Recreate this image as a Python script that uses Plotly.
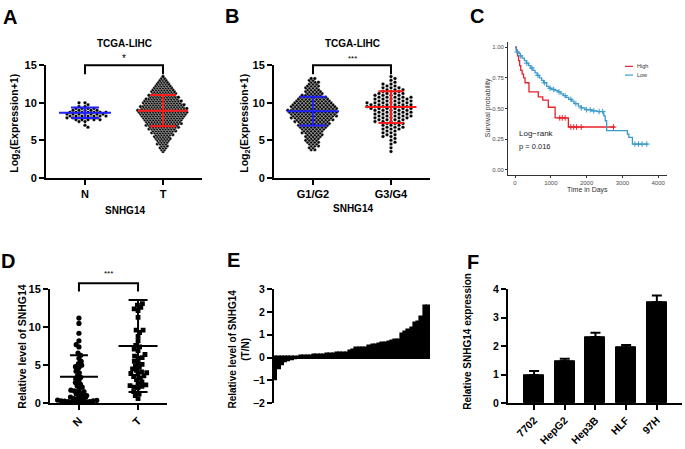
import math
import plotly.graph_objects as go

W, H = 685, 449
FONT = "Liberation Sans"

# ---------------- data ----------------
LEVELS = [3.5, 3.75, 4.0, 4.25, 4.5, 4.75, 5.0, 5.25, 5.5, 5.75,
          6.0, 6.25, 6.5, 6.75, 7.0, 7.25, 7.5, 7.75, 8.0, 8.25,
          8.5, 8.75, 9.0, 9.25, 9.5, 9.75, 10.0, 10.25, 10.5, 10.75,
          11.0, 11.25, 11.5, 11.75, 12.0, 12.25, 12.5, 12.75, 13.0, 13.25, 13.5]

# Panel A (number of samples per expression level)
A_categories = ["N", "T"]
A_N_counts = [0, 0, 0, 0, 0, 0, 0, 0, 0, 0,
              0, 0, 0, 1, 1, 0, 2, 5, 6, 7,
              7, 7, 5, 4, 2, 1, 2, 0, 0, 0,
              0, 0, 0, 0, 0, 0, 0, 0, 0, 0, 0]
A_T_counts = [1, 2, 3, 3, 4, 4, 5, 6, 6, 7,
              8, 9, 10, 11, 12, 13, 13, 14, 15, 16,
              17, 18, 18, 17, 16, 15, 14, 14, 12, 11,
              10, 9, 9, 8, 7, 6, 5, 4, 3, 2, 1]
A_mean = [8.67, 8.96]
A_sd = [0.70, 2.08]

# Panel B
B_categories = ["G1/G2", "G3/G4"]
B_G12_counts = [0, 2, 2, 3, 3, 4, 4, 4, 5, 5,
                6, 6, 7, 8, 9, 9, 10, 11, 12, 13,
                13, 14, 14, 13, 13, 12, 11, 10, 9, 8,
                6, 5, 5, 4, 4, 4, 3, 3, 2, 2, 0]
B_G34_counts = [1, 0, 1, 0, 1, 1, 1, 1, 2, 2,
                2, 2, 3, 3, 3, 3, 4, 4, 5, 5,
                5, 5, 5, 6, 6, 6, 6, 5, 5, 5,
                4, 4, 3, 3, 3, 2, 2, 1, 1, 1, 1]
B_mean = [8.88, 9.44]
B_sd = [1.92, 2.12]

# Panel C (Kaplan-Meier steps)
C_high_t = [0, 40, 70, 100, 130, 160, 200, 240, 280, 390, 650, 775, 930, 1120, 1490, 2790]
C_high_s = [1.0, 0.97, 0.93, 0.89, 0.85, 0.81, 0.78, 0.75, 0.71, 0.635, 0.595, 0.568, 0.51, 0.423, 0.349, 0.349]
C_low_t = [0, 30, 60, 100, 150, 200, 260, 320, 380, 440, 500, 560, 620, 680, 745, 800, 885, 950,
           1020, 1117, 1200, 1280, 1350, 1420, 1500, 1583, 1650, 1769, 1850, 1955, 2141, 2300,
           2480, 2520, 2560, 3140, 3180, 3280, 3724]
C_low_s = [1.0, 0.98, 0.96, 0.95, 0.93, 0.91, 0.89, 0.87, 0.85, 0.83, 0.81, 0.79, 0.77, 0.75, 0.73,
           0.71, 0.68, 0.665, 0.655, 0.645, 0.635, 0.62, 0.605, 0.59, 0.575, 0.56, 0.54, 0.52, 0.505,
           0.49, 0.48, 0.475, 0.44, 0.40, 0.32, 0.29, 0.265, 0.21, 0.21]
C_high_censor = [1250, 1320, 1400, 1560, 1640, 1720, 1850, 2750]
C_low_censor = [60, 150, 330, 470, 640, 820, 980, 1080, 1230, 1400, 1560, 1700, 1850, 2000,
                2100, 2200, 2350, 2450, 3350, 3450, 3550, 3680]

# Panel D
D_categories = ["N", "T"]
D_N_values = [11.2, 10.5, 9.2, 8.2, 7.7, 7.4, 6.6, 6.3, 5.9, 5.5, 5.2, 5.0, 4.8, 4.7, 4.2, 4.0,
              3.6, 3.4, 3.2, 3.0, 2.7, 2.5, 2.3, 2.1, 1.9, 1.7, 1.6, 1.5, 1.4, 1.2, 1.1, 1.0,
              0.9, 0.8, 0.7, 0.6, 0.5, 0.45, 0.4, 0.35, 0.3, 0.3, 0.25, 0.2, 0.2, 0.15, 0.1,
              0.1, 0.05, 0.05]
D_T_values = [13.1, 12.9, 12.6, 12.4, 12.2, 11.3, 9.6, 9.6, 9.3, 8.8, 8.2, 7.6, 7.4, 7.1, 6.9,
              6.4, 6.2, 6.0, 5.9, 5.5, 5.3, 5.1, 4.9, 4.7, 4.5, 4.3, 4.1, 4.0, 3.9, 3.8, 3.6,
              3.5, 3.3, 3.1, 2.8, 2.6, 2.4, 2.3, 2.2, 2.1, 2.0, 1.5, 1.2, 1.0, 0.6]
D_mean = [3.46, 7.52]
D_sd = [2.85, 6.05]

# Panel E (sorted T/N ratios)
E_values = [-1.0, -0.5, -0.32, -0.22, -0.17, -0.12, -0.06, 0.03, 0.05, 0.06, 0.07, 0.08,
            0.09, 0.10, 0.11, 0.12, 0.13, 0.14, 0.15, 0.17, 0.18, 0.19, 0.21, 0.28, 0.34,
            0.40, 0.41, 0.42, 0.43, 0.50, 0.52, 0.54, 0.60, 0.62, 0.64, 0.66, 0.70, 0.74,
            0.76, 1.02, 1.10, 1.22, 1.30, 1.50, 1.55, 1.75, 2.25, 2.25]

# Panel F
F_categories = ["7702", "HepG2", "Hep3B", "HLF", "97H"]
F_means = [0.98, 1.47, 2.32, 1.95, 3.54]
F_err = [0.15, 0.09, 0.15, 0.09, 0.24]

# ---------------- geometry (pixels) ----------------
P = {
    "A": dict(x=(46, 202), y=(176.5, 61), xr=(-0.5, 1.5), yr=(0, 15)),
    "B": dict(x=(274, 430), y=(176.5, 61), xr=(-0.5, 1.5), yr=(0, 15)),
    "C": dict(x=(508, 667), y=(174, 37), xr=(-196, 4246), yr=(-0.045, 1.042)),
    "D": dict(x=(50, 167), y=(408, 291), xr=(-0.49, 1.49), yr=(0, 15)),
    "E": dict(x=(274, 430), y=(408, 291), xr=(-0.5, len(E_values) - 0.5), yr=(-2, 3)),
    "F": dict(x=(508, 682), y=(408, 291), xr=(-0.85, 4.82), yr=(0, 4)),
}


def xdom(p):
    return [p["x"][0] / W, p["x"][1] / W]


def ydom(p):
    return [1 - p["y"][0] / H, 1 - p["y"][1] / H]


def xscale(p):
    return (p["x"][1] - p["x"][0]) / (p["xr"][1] - p["xr"][0])


def yscale(p):
    return (p["y"][0] - p["y"][1]) / (p["yr"][1] - p["yr"][0])


def d2px(p, xv, yv):
    px = p["x"][0] + (xv - p["xr"][0]) * xscale(p)
    py = p["y"][0] - (yv - p["yr"][0]) * yscale(p)
    return px / W, 1 - py / H


def rows_layout(levels, counts, center, dx_units):
    xs, ys = [], []
    for r, (lv, n) in enumerate(zip(levels, counts)):
        basefrac = 0.5 if n % 2 == 0 else 0.0
        want = 0.5 if r % 2 else 0.0
        shift = want - basefrac
        for k in range(n):
            xs.append(center + (k - (n - 1) / 2 + shift) * dx_units)
            ys.append(lv)
    return xs, ys


def beeswarm(values, center, xpx, ypx, diam):
    order = sorted(range(len(values)), key=lambda i: values[i])
    placed = []
    xs = [0.0] * len(values)
    for cnt, i in enumerate(order):
        y = values[i] * ypx
        ivs = []
        for (qx, qy) in placed:
            dy = abs(y - qy)
            if dy < diam:
                d = math.sqrt(diam * diam - dy * dy)
                ivs.append((qx - d, qx + d))
        cands = [0.0] + [a for a, b in ivs] + [b for a, b in ivs]
        sgn = 1 if cnt % 2 else -1
        cands.sort(key=lambda c: (round(abs(c), 6), sgn * c))
        chosen = 0.0
        for c in cands:
            if all(not (a + 1e-6 < c < b - 1e-6) for a, b in ivs):
                chosen = c
                break
        placed.append((chosen, y))
        xs[i] = center + chosen / xpx
    return xs


def surv_at(ts, ss, t):
    val = ss[0]
    for ti, si in zip(ts, ss):
        if ti <= t:
            val = si
    return val


fig = go.Figure()


def mean_sd_trace(p, xa, ya, center, mean, sd, half_mean_px, half_cap_px, color, width=2):
    hm = half_mean_px / xscale(p)
    hc = half_cap_px / xscale(p)
    xs = [center - hm, center + hm, None,
          center, center, None,
          center - hc, center + hc, None,
          center - hc, center + hc]
    ys = [mean, mean, None,
          mean - sd, mean + sd, None,
          mean + sd, mean + sd, None,
          mean - sd, mean - sd]
    return go.Scatter(x=xs, y=ys, mode="lines", line=dict(color=color, width=width),
                      xaxis=xa, yaxis=ya, hoverinfo="skip")


# ---------- Panel A ----------
pA = P["A"]
for gi, (counts, dxpx) in enumerate([(A_N_counts, 6.0), (A_T_counts, 2.8)]):
    xs, ys = rows_layout(LEVELS, counts, gi, dxpx / xscale(pA))
    fig.add_trace(go.Scatter(x=xs, y=ys, mode="markers", xaxis="x", yaxis="y",
                             marker=dict(color="black", size=3.6, line=dict(color="white", width=0.4)),
                             hoverinfo="skip"))
fig.add_trace(mean_sd_trace(pA, "x", "y", 0, A_mean[0], A_sd[0], 26, 14, "#1f1fff"))
fig.add_trace(mean_sd_trace(pA, "x", "y", 1, A_mean[1], A_sd[1], 25, 13, "#ff1a1a"))

# ---------- Panel B ----------
pB = P["B"]
for gi, (counts, dxpx) in enumerate([(B_G12_counts, 3.6), (B_G34_counts, 8.0)]):
    xs, ys = rows_layout(LEVELS, counts, gi, dxpx / xscale(pB))
    fig.add_trace(go.Scatter(x=xs, y=ys, mode="markers", xaxis="x2", yaxis="y2",
                             marker=dict(color="black", size=3.6, line=dict(color="white", width=0.4)),
                             hoverinfo="skip"))
fig.add_trace(mean_sd_trace(pB, "x2", "y2", 0, B_mean[0], B_sd[0], 26, 13.5, "#1f1fff"))
fig.add_trace(mean_sd_trace(pB, "x2", "y2", 1, B_mean[1], B_sd[1], 25.5, 12.5, "#ff1a1a"))

# ---------- Panel C ----------
RED, BLUE = "#E8202A", "#3A9BCB"
fig.add_trace(go.Scatter(x=C_high_t, y=C_high_s, mode="lines", line=dict(color=RED, width=1.3, shape="hv"),
                         xaxis="x3", yaxis="y3", hoverinfo="skip"))
fig.add_trace(go.Scatter(x=C_low_t, y=C_low_s, mode="lines", line=dict(color=BLUE, width=1.3, shape="hv"),
                         xaxis="x3", yaxis="y3", hoverinfo="skip"))
fig.add_trace(go.Scatter(x=C_high_censor, y=[surv_at(C_high_t, C_high_s, t) for t in C_high_censor],
                         mode="markers", marker=dict(symbol="cross-thin", size=4, line=dict(color=RED, width=1)),
                         xaxis="x3", yaxis="y3", hoverinfo="skip"))
fig.add_trace(go.Scatter(x=C_low_censor, y=[surv_at(C_low_t, C_low_s, t) for t in C_low_censor],
                         mode="markers", marker=dict(symbol="cross-thin", size=4, line=dict(color=BLUE, width=1)),
                         xaxis="x3", yaxis="y3", hoverinfo="skip"))

# ---------- Panel D ----------
pD = P["D"]
xN = beeswarm(D_N_values, 0, xscale(pD), yscale(pD), 3.6)
xT = beeswarm(D_T_values, 1, xscale(pD), yscale(pD), 4.2)
fig.add_trace(go.Scatter(x=xN, y=D_N_values, mode="markers", xaxis="x4", yaxis="y4",
                         marker=dict(color="black", size=5.2, symbol="circle"), hoverinfo="skip"))
fig.add_trace(go.Scatter(x=xT, y=D_T_values, mode="markers", xaxis="x4", yaxis="y4",
                         marker=dict(color="black", size=4.8, symbol="square"), hoverinfo="skip"))
fig.add_trace(mean_sd_trace(pD, "x4", "y4", 0, D_mean[0], D_sd[0], 19, 9, "black"))
fig.add_trace(mean_sd_trace(pD, "x4", "y4", 1, D_mean[1], D_sd[1], 19.5, 9.5, "black"))

# ---------- Panel E ----------
fig.add_trace(go.Bar(x=list(range(len(E_values))), y=E_values, width=1.0, xaxis="x5", yaxis="y5",
                     marker=dict(color="black", line=dict(color="black", width=1.6)), hoverinfo="skip"))

# ---------- Panel F ----------
fig.add_trace(go.Bar(x=list(range(len(F_categories))), y=F_means, width=0.65, xaxis="x6", yaxis="y6",
                     marker=dict(color="black", line=dict(color="black", width=1)),
                     error_y=dict(type="data", array=F_err, arrayminus=[0] * len(F_err), symmetric=False,
                                  color="black", thickness=2, width=5),
                     hoverinfo="skip"))

# ---------------- axes ----------------
bold11 = dict(family=FONT, size=11, color="black", weight="bold")
bold10 = dict(family=FONT, size=10.5, color="black", weight="bold")


def gp_x(p, ticktext=None, angle=0, show=True):
    d = dict(domain=xdom(p), range=list(p["xr"]), showgrid=False, zeroline=False, fixedrange=True)
    if show:
        d.update(showline=True, linecolor="black", linewidth=2, ticks="outside", ticklen=5,
                 tickwidth=2, tickcolor="black", tickfont=bold11,
                 tickvals=list(range(len(ticktext))), ticktext=ticktext, tickangle=angle)
    else:
        d.update(showline=False, showticklabels=False, ticks="")
    return d


def gp_y(p, anchor, tickvals, font=bold11):
    return dict(domain=ydom(p), range=list(p["yr"]), anchor=anchor, showgrid=False, zeroline=False,
                showline=True, linecolor="black", linewidth=2, ticks="outside", ticklen=5,
                tickwidth=2, tickcolor="black", tickfont=font, tickvals=tickvals, fixedrange=True)


grayfont = dict(family=FONT, size=6, color="#4D4D4D")
layout = dict(
    width=W, height=H, margin=dict(l=0, r=0, t=0, b=0),
    paper_bgcolor="white", plot_bgcolor="white", showlegend=False,
    font=dict(family=FONT), bargap=0,
    xaxis=dict(gp_x(P["A"], A_categories), anchor="y"),
    yaxis=gp_y(P["A"], "x", [0, 5, 10, 15]),
    xaxis2=dict(gp_x(P["B"], B_categories), anchor="y2"),
    yaxis2=gp_y(P["B"], "x2", [0, 5, 10, 15]),
    xaxis3=dict(domain=xdom(P["C"]), range=list(P["C"]["xr"]), anchor="y3", showgrid=False, zeroline=False,
                showline=True, linecolor="#333333", linewidth=0.8, ticks="outside", ticklen=2,
                tickcolor="#333333", tickwidth=0.8, tickfont=grayfont, tickvals=[0, 1000, 2000, 3000, 4000],
                fixedrange=True),
    yaxis3=dict(domain=ydom(P["C"]), range=list(P["C"]["yr"]), anchor="x3", showgrid=False, zeroline=False,
                showline=True, linecolor="#333333", linewidth=0.8, ticks="outside", ticklen=2,
                tickcolor="#333333", tickwidth=0.8, tickfont=grayfont, tickvals=[0, 0.25, 0.5, 0.75, 1.0],
                tickformat=".2f", fixedrange=True),
    xaxis4=dict(gp_x(P["D"], D_categories, angle=-45), anchor="y4"),
    yaxis4=gp_y(P["D"], "x4", [0, 5, 10, 15]),
    xaxis5=dict(gp_x(P["E"], show=False), anchor="y5"),
    yaxis5=dict(gp_y(P["E"], "x5", [-2, -1, 0, 1, 2, 3], font=bold10), zeroline=True,
                zerolinecolor="black", zerolinewidth=2),
    xaxis6=dict(gp_x(P["F"], F_categories, angle=-45), anchor="y6", tickfont=bold10),
    yaxis6=gp_y(P["F"], "x6", [0, 1, 2, 3, 4], font=bold10),
)

annotations = []


def ann(x, y, text, size, bold=True, angle=0, color="black", xanchor="center", yanchor="middle"):
    annotations.append(dict(x=x / W, y=1 - y / H, xref="paper", yref="paper", text=text, showarrow=False,
                            textangle=angle, xanchor=xanchor, yanchor=yanchor,
                            font=dict(family=FONT, size=size, color=color,
                                      weight="bold" if bold else "normal")))


for letter, (lx, ly) in {"A": (10, 11), "B": (232, 10), "C": (477, 10),
                         "D": (8, 262), "E": (233, 261), "F": (473, 263)}.items():
    ann(lx, ly, letter, 20)

ann(124, 39, "TCGA-LIHC", 10)
ann(353, 39, "TCGA-LIHC", 10)
ann(125, 210, "SNHG14", 10)
ann(353, 208, "SNHG14", 10)
ann(15, 121, "Log<sub>2</sub>(Expression+1)", 10.5, angle=-90)
ann(245, 121, "Log<sub>2</sub>(Expression+1)", 10.5, angle=-90)
ann(22, 350, "Relative level of SNHG14", 10.5, angle=-90)
ann(239, 352, "Relative level of SNHG14<br>(T/N)", 10, angle=-90)
ann(468, 345, "Relative SNHG14 expression", 10, angle=-90)

# panel C texts
ann(488, 105, "Survival probability", 7, bold=False, angle=-90, color="#333333")
ann(587, 189, "Time in Days", 7, bold=False, color="#333333")
ann(517, 131, "Log\u2212rank", 8, bold=False, color="#222222", xanchor="left")
ann(517, 144, "p = 0.016", 7.5, bold=False, color="#222222", xanchor="left")
ann(635, 62, "High", 5.5, bold=False, color="#333333", xanchor="left")
ann(635, 71, "Low", 5.5, bold=False, color="#333333", xanchor="left")

shapes = []
for yy, col in [(62, RED), (71, BLUE)]:
    shapes.append(dict(type="line", xref="paper", yref="paper", x0=625 / W, x1=633 / W,
                       y0=1 - yy / H, y1=1 - yy / H, line=dict(color=col, width=1.2)))


def bracket(p, x0, x1, ytop, yleg, star_y, stars, size):
    ax, ay = d2px(p, x0, yleg)
    bx, by = d2px(p, x1, ytop)
    _, by2 = d2px(p, x1, yleg)
    path = f"M {ax},{ay} L {ax},{by} L {bx},{by} L {bx},{by2}"
    shapes.append(dict(type="path", xref="paper", yref="paper", path=path,
                       line=dict(color="black", width=2)))
    sx, sy = d2px(p, (x0 + x1) / 2, star_y)
    annotations.append(dict(x=sx, y=sy, xref="paper", yref="paper", text=stars, showarrow=False,
                            xanchor="center", yanchor="middle",
                            font=dict(family=FONT, size=size, color="black")))


bracket(P["A"], 0, 1, 15.0, 13.8, 15.9, "*", 10)
bracket(P["B"], 0, 1, 15.0, 13.8, 15.9, "***", 8)
bracket(P["D"], 0, 1, 15.8, 14.7, 17.1, "***", 8)

layout["annotations"] = annotations
layout["shapes"] = shapes
fig.update_layout(**layout)
fig.write_html("out.html", config={"displayModeBar": False},
               post_script="document.body.style.margin='0';document.body.style.overflow='hidden';")
